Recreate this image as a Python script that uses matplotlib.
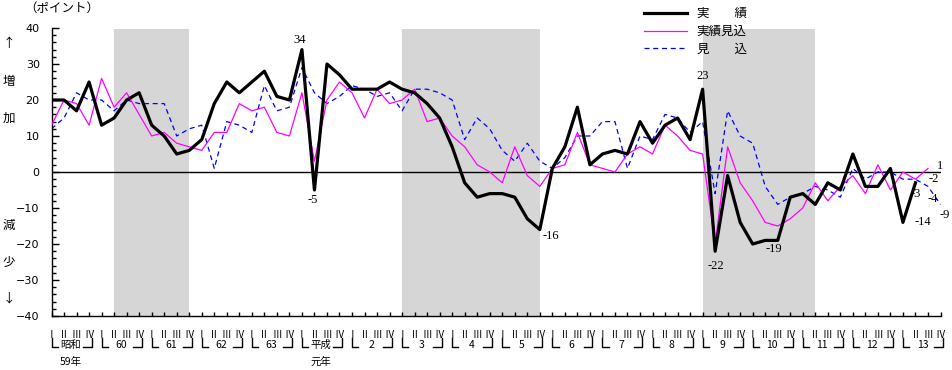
import numpy as np
import matplotlib
matplotlib.use('Agg')
import matplotlib.pyplot as plt
import matplotlib.transforms as mtransforms

plt.rcParams['font.family'] = ['Noto Sans CJK JP', 'DejaVu Sans']

# 実績 (actual), 昭和59年I ~ 平成13年II
jisseki = [20, 20, 17, 25, 13, 15, 20, 22, 13, 10, 5, 6,
           9, 19, 25, 22, 25, 28, 21, 20, 34, -5, 30, 27,
           23, 23, 23, 25, 23, 22, 19, 15, 7, -3, -7, -6,
           -6, -7, -13, -16, 1, 7, 18, 2, 5, 6, 5, 14,
           8, 13, 15, 9, 23, -22, -1, -14, -20, -19, -19, -7,
           -6, -9, -3, -5, 5, -4, -4, 1, -14, -3]

# 実績見込 (estimate), up to 平成13年III
jisseki_mikomi = [13, 20, 19, 13, 26, 18, 22, 16, 10, 11, 8, 7,
                  6, 11, 11, 19, 17, 18, 11, 10, 22, 3, 20, 25,
                  22, 15, 23, 19, 20, 23, 14, 15, 10, 7, 2, 0,
                  -3, 7, -1, -4, 1, 2, 11, 2, 1, 0, 5, 7,
                  5, 13, 10, 6, 5, -20, 7, -3, -8, -14, -15, -13,
                  -10, -3, -8, -4, -1, -6, 2, -5, 0, -2, 1]

# 見込 (forecast), up to 平成13年IV
mikomi = [12, 15, 22, 20, 20, 17, 20, 19, 19, 19, 10, 12,
          13, 1, 14, 13, 11, 24, 17, 18, 29, 22, 19, 21,
          24, 23, 21, 22, 17, 23, 23, 22, 20, 9, 15, 12,
          6, 3, 8, 3, 1, 4, 10, 10, 14, 14, 1, 10,
          9, 16, 15, 11, 14, -6, 17, 10, 8, -4, -9, -7,
          -6, -4, -5, -7, 1, -2, 0, 0, -2, -2, -4, -9]

quarters = ['Ⅰ', 'Ⅱ', 'Ⅲ', 'Ⅳ']
years = ['昭和', '60', '61', '62', '63', '平成', '2', '3', '4', '5',
         '6', '7', '8', '9', '10', '11', '12', '13']
year_sub = {0: '59年', 5: '元年'}

# recession periods (quarter index start, end)
shade = [(5, 11), (28, 39), (52, 61)]

fig = plt.figure(figsize=(9.52, 3.70), dpi=100)
ax = fig.add_axes([51.5 / 952, 1 - 316 / 370, 889 / 952, 288 / 370])

for a, b in shade:
    ax.axvspan(a, b, ymin=0, ymax=0.995, color='#d6d6d6', lw=0, zorder=0)

ax.axhline(0, color='black', lw=1, zorder=1)

n = len(years) * 4
ax.plot(np.arange(len(mikomi)), mikomi, color='#0000ff', lw=0.9,
        dashes=(4, 3), label='見　　込', zorder=2)
ax.plot(np.arange(len(jisseki_mikomi)), jisseki_mikomi, color='#ff00ff',
        lw=0.9, label='実績見込', zorder=3)
ax.plot(np.arange(len(jisseki)), jisseki, color='black', lw=2.3,
        label='実　　績', zorder=4)

ax.set_xlim(0, n - 1)
ax.set_ylim(-40, 40)
for s in ['top', 'right']:
    ax.spines[s].set_visible(False)
ax.spines['left'].set_linewidth(1)
ax.spines['bottom'].set_linewidth(1)

ax.set_yticks(np.arange(-40, 41, 10))
ax.set_yticks(np.arange(-40, 41, 2), minor=True)
ax.tick_params(axis='y', which='major', direction='in', length=5, width=1,
               pad=8.5, labelsize=8, labelfontfamily='DejaVu Sans')
ax.tick_params(axis='y', which='minor', direction='in', length=3, width=1)

ax.set_xticks(np.arange(n), labels=quarters * len(years))
ax.tick_params(axis='x', direction='in', length=3, width=1, pad=10,
               labelsize=7)

# value labels
serif = 'Liberation Serif'
notes = [
    (jisseki, 20, '34', (-2, 10)),
    (jisseki, 21, '-5', (-2, -10)),
    (jisseki, 39, '-16', (11, -6)),
    (jisseki, 52, '23', (0, 13)),
    (jisseki, 53, '-22', (1, -15)),
    (jisseki, 58, '-19', (-4, -9)),
    (jisseki, 68, '-14', (20, 0)),
    (jisseki, 69, '-3', (0, -11)),
    (jisseki_mikomi, 69, '-2', (18, 0)),
    (jisseki_mikomi, 70, '1', (12, 2)),
    (mikomi, 70, '-4', (5, -13)),
    (mikomi, 71, '-9', (4, -11)),
]
for series, i, txt, off in notes:
    ax.annotate(txt, (i, series[i]), xytext=off, textcoords='offset pixels',
                ha='center', va='center', fontsize=9, family=serif,
                zorder=5)

# year brackets under the axis
trans = mtransforms.blended_transform_factory(ax.transData, ax.transAxes)
y_top = -0.076
y_bot = -0.109
for k, name in enumerate(years):
    x0 = 4 * k
    ax.plot([x0, x0, x0 + 0.5], [y_top, y_bot, y_bot], color='black',
            lw=1, transform=trans, clip_on=False)
    ax.plot([x0 + 2.5, x0 + 3.2, x0 + 3.2], [y_bot, y_bot, y_top],
            color='black', lw=1, transform=trans, clip_on=False)
    ax.text(x0 + 1.55, -0.099, name, transform=trans, ha='center',
            va='center', fontsize=7.5)
    if k in year_sub:
        ax.text(x0 + 1.5, -0.158, year_sub[k], transform=trans,
                ha='center', va='center', fontsize=7.5)

# left side texts
fig.text(24 / 952, 1 - 8 / 370, '（ポイント）', ha='left', va='center',
         fontsize=9)
side = [('↑', 44), ('増', 82), ('加', 118), ('減', 225), ('少', 262),
        ('↓', 298)]
for ch, ypix in side:
    fig.text(9 / 952, 1 - ypix / 370, ch, ha='center', va='center',
             fontsize=9)

handles, labels = ax.get_legend_handles_labels()
order = [2, 1, 0]
ax.legend([handles[i] for i in order], [labels[i] for i in order],
          loc='upper left', bbox_to_anchor=(638 / 952, 1 - 1 / 370),
          bbox_transform=fig.transFigure, frameon=False, fontsize=9,
          handlelength=3.4, handletextpad=0.8, labelspacing=0.38,
          borderpad=0.0)

fig.savefig('out.png', dpi=100)
